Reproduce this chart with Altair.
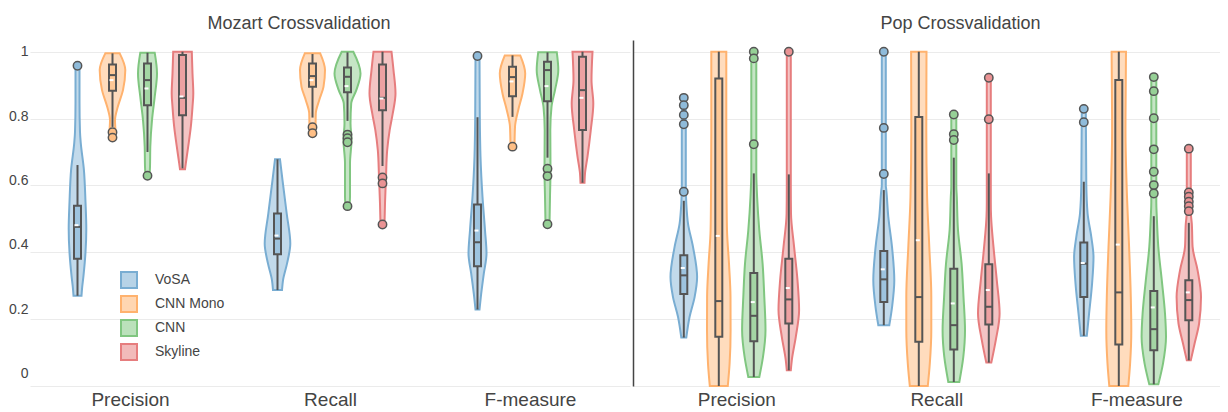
import altair as alt
import pandas as pd

PANELS = ["Mozart Crossvalidation", "Pop Crossvalidation"]
METRICS = ["Precision", "Recall", "F-measure"]
MODELS = ["VoSA", "CNN Mono", "CNN", "Skyline"]
COLORS = ["#1f77b4", "#ff7f0e", "#2ca02c", "#d62728"]
Y_TICKS = [0, 0.2, 0.4, 0.6, 0.8, 1]

# violin outlines: (score, estimated density), top to bottom
MOZ_PREC_VOSA = [(0.958, 2), (0.85, 2), (0.76, 2.5), (0.726, 3.3), (0.65, 6.3), (0.55, 8), (0.47, 8.8), (0.40, 8), (0.33, 6), (0.29, 4.5), (0.27, 4)]
MOZ_PREC_MONO = [(0.995, 7.2), (0.945, 12.8), (0.885, 10.5), (0.835, 5.3), (0.795, 2.5), (0.757, 3), (0.741, 2)]
MOZ_PREC_CNN = [(0.997, 7.2), (0.935, 9.5), (0.865, 7.2), (0.795, 4.5), (0.716, 2.8), (0.656, 2.5), (0.626, 2)]
MOZ_PREC_SKY = [(1.0, 9.3), (0.935, 10), (0.875, 10.8), (0.835, 10), (0.775, 8.3), (0.716, 5.7), (0.666, 3.3), (0.648, 2.5)]
MOZ_REC_VOSA = [(0.678, 2.5), (0.616, 5), (0.516, 9.2), (0.426, 12.8), (0.366, 9.5), (0.316, 5.5), (0.287, 4.5)]
MOZ_REC_MONO = [(0.995, 7.7), (0.945, 12.5), (0.895, 11), (0.855, 6.7), (0.816, 3.3), (0.775, 3), (0.748, 2)]
MOZ_REC_CNN = [(1.0, 5.8), (0.935, 13), (0.885, 8.8), (0.845, 3.7), (0.786, 3), (0.736, 4), (0.666, 2.5), (0.566, 2.5), (0.538, 2)]
MOZ_REC_SKY = [(1.0, 9), (0.945, 11), (0.875, 13), (0.816, 10.3), (0.766, 7.2), (0.706, 4.7), (0.626, 3.5), (0.546, 2.5), (0.483, 2)]
MOZ_F_VOSA = [(0.987, 2), (0.805, 2.3), (0.686, 3), (0.566, 5), (0.466, 7.5), (0.396, 9), (0.336, 6.3), (0.266, 3.3), (0.229, 2)]
MOZ_F_MONO = [(0.989, 7.7), (0.935, 12.7), (0.875, 10), (0.825, 5.7), (0.775, 2.5), (0.716, 2)]
MOZ_F_CNN = [(0.998, 9.3), (0.945, 10.8), (0.885, 7.5), (0.835, 4), (0.766, 2.8), (0.646, 3), (0.566, 2.5), (0.484, 2)]
MOZ_F_SKY = [(1.0, 10), (0.915, 9), (0.845, 10.8), (0.766, 8.3), (0.686, 5), (0.636, 2.5), (0.608, 2)]

POP_PREC_VOSA = [(0.862, 2), (0.60, 2), (0.546, 2.5), (0.486, 4.2), (0.416, 9.2), (0.326, 13.3), (0.266, 10.8), (0.207, 5.8), (0.145, 2.5)]
POP_PREC_MONO = [(1.0, 7.5), (0.766, 7.5), (0.566, 7.8), (0.466, 8.2), (0.366, 10.2), (0.266, 11.7), (0.167, 11.8), (0.067, 10.8), (0.0, 9)]
POP_PREC_CNN = [(1.0, 2.5), (0.64, 2.5), (0.566, 3.3), (0.466, 5.5), (0.366, 8.8), (0.266, 10.5), (0.167, 11.7), (0.087, 9.2), (0.027, 5.5)]
POP_PREC_SKY = [(1.0, 2), (0.60, 2), (0.516, 2.2), (0.416, 5.3), (0.316, 8.7), (0.227, 10.3), (0.147, 7), (0.077, 3), (0.047, 2)]
POP_REC_VOSA = [(1.0, 2), (0.60, 2), (0.586, 2.5), (0.506, 4.5), (0.416, 8.2), (0.316, 10.5), (0.237, 8.3), (0.182, 5.5)]
POP_REC_MONO = [(1.0, 7.7), (0.766, 7.5), (0.566, 8.3), (0.416, 10.5), (0.266, 12.5), (0.167, 12.5), (0.067, 11), (0.0, 9)]
POP_REC_CNN = [(0.812, 2.5), (0.60, 2.5), (0.566, 3), (0.466, 4.2), (0.366, 7.8), (0.266, 9.7), (0.167, 11.2), (0.087, 9.5), (0.012, 5.5)]
POP_REC_SKY = [(0.922, 2), (0.55, 2), (0.506, 2.3), (0.416, 4.7), (0.316, 8), (0.217, 10.8), (0.137, 7), (0.070, 2.5)]
POP_F_VOSA = [(0.829, 2), (0.606, 2.5), (0.516, 3.8), (0.446, 7.5), (0.386, 9.7), (0.307, 8.3), (0.217, 5.3), (0.150, 3)]
POP_F_MONO = [(1.0, 7.2), (0.766, 6.7), (0.566, 8.2), (0.416, 10.3), (0.266, 12), (0.167, 12.5), (0.067, 11.3), (0.0, 9.5)]
POP_F_CNN = [(0.924, 2.5), (0.55, 2.5), (0.506, 3), (0.416, 4.5), (0.316, 8), (0.217, 11.2), (0.147, 12.2), (0.067, 9.2), (0.005, 4.5)]
POP_F_SKY = [(0.710, 2), (0.52, 2), (0.486, 3), (0.416, 3.8), (0.346, 8.8), (0.266, 12.2), (0.187, 10.3), (0.127, 5.8), (0.077, 2)]

# box statistics, rows = metric, columns = model
MOZ_LOW = [[0.270, 0.775, 0.700, 0.651], [0.287, 0.803, 0.793, 0.658], [0.229, 0.805, 0.683, 0.608]]
MOZ_Q1 = [[0.381, 0.883, 0.840, 0.810], [0.394, 0.895, 0.879, 0.825], [0.358, 0.867, 0.852, 0.766]]
MOZ_MED = [[0.476, 0.930, 0.915, 0.862], [0.441, 0.927, 0.925, 0.862], [0.430, 0.924, 0.945, 0.885]]
MOZ_Q3 = [[0.539, 0.962, 0.965, 0.990], [0.516, 0.965, 0.953, 0.962], [0.543, 0.955, 0.970, 0.985]]
MOZ_HIGH = [[0.661, 0.995, 0.997, 1.0], [0.678, 0.993, 0.998, 1.0], [0.804, 0.989, 0.998, 1.0]]
MOZ_MEAN = [[0.481, 0.915, 0.890, 0.866], [0.450, 0.915, 0.897, 0.860], [0.465, 0.911, 0.897, 0.862]]
MOZ_OUT = [[[0.958], [0.759, 0.743], [0.629], []],
           [[], [0.774, 0.756], [0.752, 0.741, 0.729, 0.538], [0.624, 0.606, 0.483]],
           [[0.987], [0.716], [0.650, 0.628, 0.484], []]]

POP_LOW = [[0.145, 0.0, 0.027, 0.047], [0.182, 0.0, 0.012, 0.070], [0.150, 0.0, 0.005, 0.077]]
POP_Q1 = [[0.275, 0.147, 0.134, 0.187], [0.251, 0.132, 0.109, 0.184], [0.266, 0.124, 0.107, 0.197]]
POP_MED = [[0.331, 0.254, 0.210, 0.259], [0.319, 0.266, 0.182, 0.237], [0.366, 0.280, 0.170, 0.257]]
POP_Q3 = [[0.391, 0.920, 0.338, 0.381], [0.404, 0.805, 0.351, 0.364], [0.429, 0.915, 0.284, 0.316]]
POP_HIGH = [[0.554, 1.0, 0.636, 0.633], [0.586, 1.0, 0.683, 0.636], [0.611, 1.0, 0.508, 0.488]]
POP_MEAN = [[0.353, 0.449, 0.251, 0.293], [0.349, 0.436, 0.247, 0.287], [0.368, 0.423, 0.235, 0.280]]
POP_OUT = [[[0.862, 0.840, 0.811, 0.783, 0.581], [], [1.0, 0.980, 0.723], [1.0]],
           [[1.0, 0.772, 0.634], [], [0.812, 0.753, 0.736], [0.922, 0.798]],
           [[0.829, 0.789], [], [0.924, 0.882, 0.801, 0.708, 0.641, 0.601, 0.576], [0.710, 0.579, 0.566, 0.551, 0.538, 0.523]]]

MOZ_VIOLINS = [[MOZ_PREC_VOSA, MOZ_PREC_MONO, MOZ_PREC_CNN, MOZ_PREC_SKY],
               [MOZ_REC_VOSA, MOZ_REC_MONO, MOZ_REC_CNN, MOZ_REC_SKY],
               [MOZ_F_VOSA, MOZ_F_MONO, MOZ_F_CNN, MOZ_F_SKY]]
POP_VIOLINS = [[POP_PREC_VOSA, POP_PREC_MONO, POP_PREC_CNN, POP_PREC_SKY],
               [POP_REC_VOSA, POP_REC_MONO, POP_REC_CNN, POP_REC_SKY],
               [POP_F_VOSA, POP_F_MONO, POP_F_CNN, POP_F_SKY]]

# ---------------------------------------------------------------- styling
PX = 200.0            # pixels per metric slot
SLOT = 35 / PX        # distance between dodged violins
BOX_HALF = 3.5 / PX
GREY = "#555555"
TEXT = "#444444"
FONT = "Liberation Sans"
H = 346


def tint(hex_color, alpha):
    r, g, b = (int(hex_color[i:i + 2], 16) for i in (1, 3, 5))
    mix = lambda c: round(255 + (c - 255) * alpha)
    return "#{:02x}{:02x}{:02x}".format(mix(r), mix(g), mix(b))


LIGHT = [tint(c, 0.32) for c in COLORS]
MID = [tint(c, 0.6) for c in COLORS]
BOXC = [tint(c, 0.5) for c in COLORS]


def frames(violins, low, q1, med, q3, high, mean, out):
    vr, br, wr, orr = [], [], [], []
    for m in range(len(METRICS)):
        for k, model in enumerate(MODELS):
            c = m + (k - 1.5) * SLOT
            vid = f"{m}-{k}"
            for v, d in violins[m][k]:
                vr.append(dict(vid=vid, model=model, y=v, xl=c - d / PX, xr=c + d / PX))
            br.append(dict(model=model, c=c, bl=c - BOX_HALF, br=c + BOX_HALF,
                           q1=q1[m][k], q3=q3[m][k], med=med[m][k], mean=mean[m][k],
                           ml=c - 3 / PX, mr=c + 1 / PX))
            wr.append(dict(c=c, y=low[m][k], y2=q1[m][k]))
            wr.append(dict(c=c, y=q3[m][k], y2=high[m][k]))
            for o in out[m][k]:
                orr.append(dict(model=model, c=c, y=o))
    return pd.DataFrame(vr), pd.DataFrame(br), pd.DataFrame(wr), pd.DataFrame(orr)


fill_scale = alt.Scale(domain=MODELS, range=LIGHT)
stroke_scale = alt.Scale(domain=MODELS, range=MID)
box_scale = alt.Scale(domain=MODELS, range=BOXC)
y_scale = alt.Scale(domain=[0, 1.035], nice=False, zero=False)
label_expr = "[" + ",".join(f"'{m}'" for m in METRICS) + "][datum.value]"
x_axis = alt.Axis(values=list(range(len(METRICS))), labelExpr=label_expr, title=None,
                  grid=False, domain=False, ticks=False, labelFontSize=19,
                  labelColor=TEXT, labelPadding=4, labelFont=FONT)

y_axis_left = alt.Axis(values=Y_TICKS, format=".1~f", title=None, domain=False, ticks=False,
                       grid=True, gridColor="#ebebeb", gridWidth=1, labelFontSize=14,
                       labelColor=TEXT, labelPadding=2, labelFont=FONT,
                       labelOffset={"condition": [{"test": f"datum.value == {t}",
                                                   "value": round(-12.4 * (1 - t), 1)} for t in Y_TICKS],
                                    "value": 0})
y_axis_right = alt.Axis(values=Y_TICKS, title=None, labels=False, ticks=False, domain=True,
                        domainColor=TEXT, domainWidth=1.5, grid=True, gridColor="#ebebeb",
                        gridWidth=1, minExtent=0, maxExtent=0)

legend = alt.Legend(title=None, orient="none", legendX=90, legendY=231, symbolType="square",
                    symbolSize=256, symbolStrokeWidth=2, labelFontSize=14, labelColor=TEXT,
                    labelFont=FONT, labelOffset=17, rowPadding=0)


def panel(title, dx, violins, low, q1, med, q3, high, mean, out, x_domain, width, y_axis, show_legend):
    vdf, bdf, wdf, odf = frames(violins, low, q1, med, q3, high, mean, out)
    xs = alt.Scale(domain=x_domain, nice=False, zero=False)
    lg = legend if show_legend else None

    violin = alt.Chart(vdf).mark_area(orient="horizontal", interpolate="monotone",
                                      fillOpacity=0.85, strokeWidth=2).encode(
        y=alt.Y("y:Q", scale=y_scale, axis=y_axis),
        x=alt.X("xl:Q", scale=xs, axis=x_axis),
        x2="xr:Q",
        fill=alt.Fill("model:N", scale=fill_scale, legend=lg),
        stroke=alt.Stroke("model:N", scale=stroke_scale, legend=lg),
        detail="vid:N",
    )
    whisk = alt.Chart(wdf).mark_rule(color=GREY, strokeWidth=2).encode(
        x=alt.X("c:Q", scale=xs, axis=x_axis),
        y=alt.Y("y:Q", scale=y_scale, axis=y_axis), y2="y2:Q")
    box = alt.Chart(bdf).mark_rect(fillOpacity=0.7, stroke=GREY, strokeWidth=2).encode(
        x=alt.X("bl:Q", scale=xs, axis=x_axis), x2="br:Q",
        y=alt.Y("q1:Q", scale=y_scale, axis=y_axis), y2="q3:Q",
        color=alt.Color("model:N", scale=box_scale, legend=None))
    median = alt.Chart(bdf).mark_rule(color=GREY, strokeWidth=2).encode(
        x=alt.X("bl:Q", scale=xs, axis=x_axis), x2="br:Q",
        y=alt.Y("med:Q", scale=y_scale, axis=y_axis))
    meanm = alt.Chart(bdf).mark_rule(color="white", strokeWidth=2).encode(
        x=alt.X("ml:Q", scale=xs, axis=x_axis), x2="mr:Q",
        y=alt.Y("mean:Q", scale=y_scale, axis=y_axis))
    outl = alt.Chart(odf).mark_point(shape="circle", filled=True, size=70, opacity=1,
                                     stroke=GREY, strokeWidth=1.5).encode(
        x=alt.X("c:Q", scale=xs, axis=x_axis),
        y=alt.Y("y:Q", scale=y_scale, axis=y_axis),
        color=alt.Color("model:N", scale=stroke_scale, legend=None))

    return alt.layer(violin, whisk, box, median, meanm, outl).properties(
        width=width, height=H,
        title=alt.TitleParams(title, fontSize=18, color=TEXT, font=FONT, fontWeight="normal",
                              dx=dx, offset=7))


p1 = panel(PANELS[0], -31, MOZ_VIOLINS, MOZ_LOW, MOZ_Q1, MOZ_MED, MOZ_Q3, MOZ_HIGH, MOZ_MEAN, MOZ_OUT,
           [-0.5, 2.5], 600, y_axis_left, True)
p2 = panel(PANELS[1], 34, POP_VIOLINS, POP_LOW, POP_Q1, POP_MED, POP_Q3, POP_HIGH, POP_MEAN, POP_OUT,
           [-0.5165, 2.4185], 587, y_axis_right, False)

chart = alt.hconcat(p1, p2, spacing=3).resolve_scale(
    fill="shared", stroke="shared", color="shared"
).properties(
    padding={"left": 0, "top": 7, "right": 0, "bottom": 0}
).configure(font=FONT).configure_view(stroke=None, strokeWidth=0)

chart.save("out.html", embed_options={"renderer": "svg", "actions": False})
